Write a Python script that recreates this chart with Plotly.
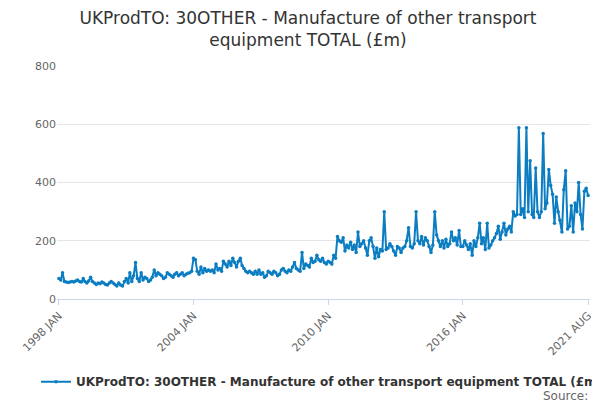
import pandas as pd
import plotly.graph_objects as go

dates = pd.date_range("1998-01-01", "2021-08-01", freq="MS")

values = [
    70, 65, 90, 60, 58, 57, 58, 60, 58, 62, 65, 60,
    58, 70, 60, 55, 62, 75, 60, 55, 50, 55, 52, 58,
    55, 50, 48, 55, 60, 55, 50, 45, 55, 48, 45, 60,
    70, 55, 90, 60, 80, 125, 70, 60, 90, 65, 75, 70,
    60, 65, 75, 100, 80, 90, 85, 80, 70, 75, 90, 85,
    80, 75, 85, 90, 80, 85, 90, 80, 85, 88, 90, 95,
    140, 135, 95, 85, 110, 90, 105, 95, 100, 95, 100, 90,
    120, 100, 105, 95, 130, 120, 110, 130, 115, 140, 125, 110,
    130, 140, 115, 105, 95, 90, 95, 90, 85, 95, 85, 100,
    85, 90, 75, 80, 95, 90, 85, 95, 90, 80, 85, 100,
    105, 95, 90, 100, 95, 110, 125, 105, 100, 95, 160, 105,
    120, 115, 110, 140, 125, 130, 150, 135, 130, 140, 125, 120,
    130, 125, 120, 150, 140, 215, 200, 195, 210, 165, 185, 175,
    195, 170, 185, 160, 230, 180, 190, 200, 175, 150, 200, 210,
    180, 140, 175, 145, 170, 165, 300, 170, 175, 190, 180, 165,
    150, 180, 175, 160, 175, 180, 200, 245, 180, 175, 190, 300,
    200, 190, 215, 185, 210, 200, 180, 160, 185, 300, 220, 200,
    180, 200, 175, 205, 180, 190, 230, 200, 210, 185, 235, 180,
    180, 200, 185, 170, 190, 150, 200, 180, 210, 260, 190, 210,
    170, 260, 175, 185, 200, 210, 225, 250, 205, 230, 260, 220,
    240, 250, 230, 300, 285, 290, 588, 290, 310, 280, 588, 300,
    475, 290, 280, 450, 300, 280, 300, 568, 310, 330, 445, 390,
    360, 260, 350, 300, 270, 230, 375, 440, 240, 250, 320, 230,
    330, 300, 400, 290, 240, 370, 380, 355,
]

series_name = "UKProdTO: 30OTHER - Manufacture of other transport equipment TOTAL (£m)"
tick_dates = ["1998-01-01", "2004-01-01", "2010-01-01", "2016-01-01", "2021-08-01"]
tick_text = ["1998 JAN", "2004 JAN", "2010 JAN", "2016 JAN", "2021 AUG"]

fig = go.Figure()
fig.add_trace(go.Scatter(
    x=dates, y=values, mode="lines+markers", name="<b>" + series_name + "</b>",
    line=dict(color="#0b7dc1", width=2), marker=dict(size=3.5, color="#0b7dc1"),
))

fig.update_layout(
    width=600, height=400,
    font=dict(family="DejaVu Sans", color="#333"),
    title=dict(text="UKProdTO: 30OTHER - Manufacture of other transport<br>equipment TOTAL (£m)",
               x=0.5, y=0.96, font=dict(size=17, color="#333")),
    margin=dict(l=45, r=18, t=58, b=108),
    plot_bgcolor="white", paper_bgcolor="white",
    showlegend=True,
    legend=dict(orientation="h", x=0.5, xanchor="center", y=-0.355, yanchor="middle",
                font=dict(size=12, color="#333")),
    xaxis=dict(tickvals=tick_dates, ticktext=tick_text, tickangle=-45,
               range=["1997-12-01", "2021-09-01"], showgrid=False,
               showline=True, linecolor="#ccd6eb", ticks="outside", tickcolor="#ccd6eb",
               tickfont=dict(size=11, color="#666")),
    yaxis=dict(range=[0, 800], dtick=200, gridcolor="#e6e6e6", zeroline=False,
               tickfont=dict(size=11, color="#666")),
)
fig.add_annotation(text="Source:", xref="paper", yref="paper", x=1.0, y=-0.415,
                   xanchor="right", yanchor="middle", showarrow=False,
                   font=dict(size=12, color="#666"))

fig.write_html("out.html")
